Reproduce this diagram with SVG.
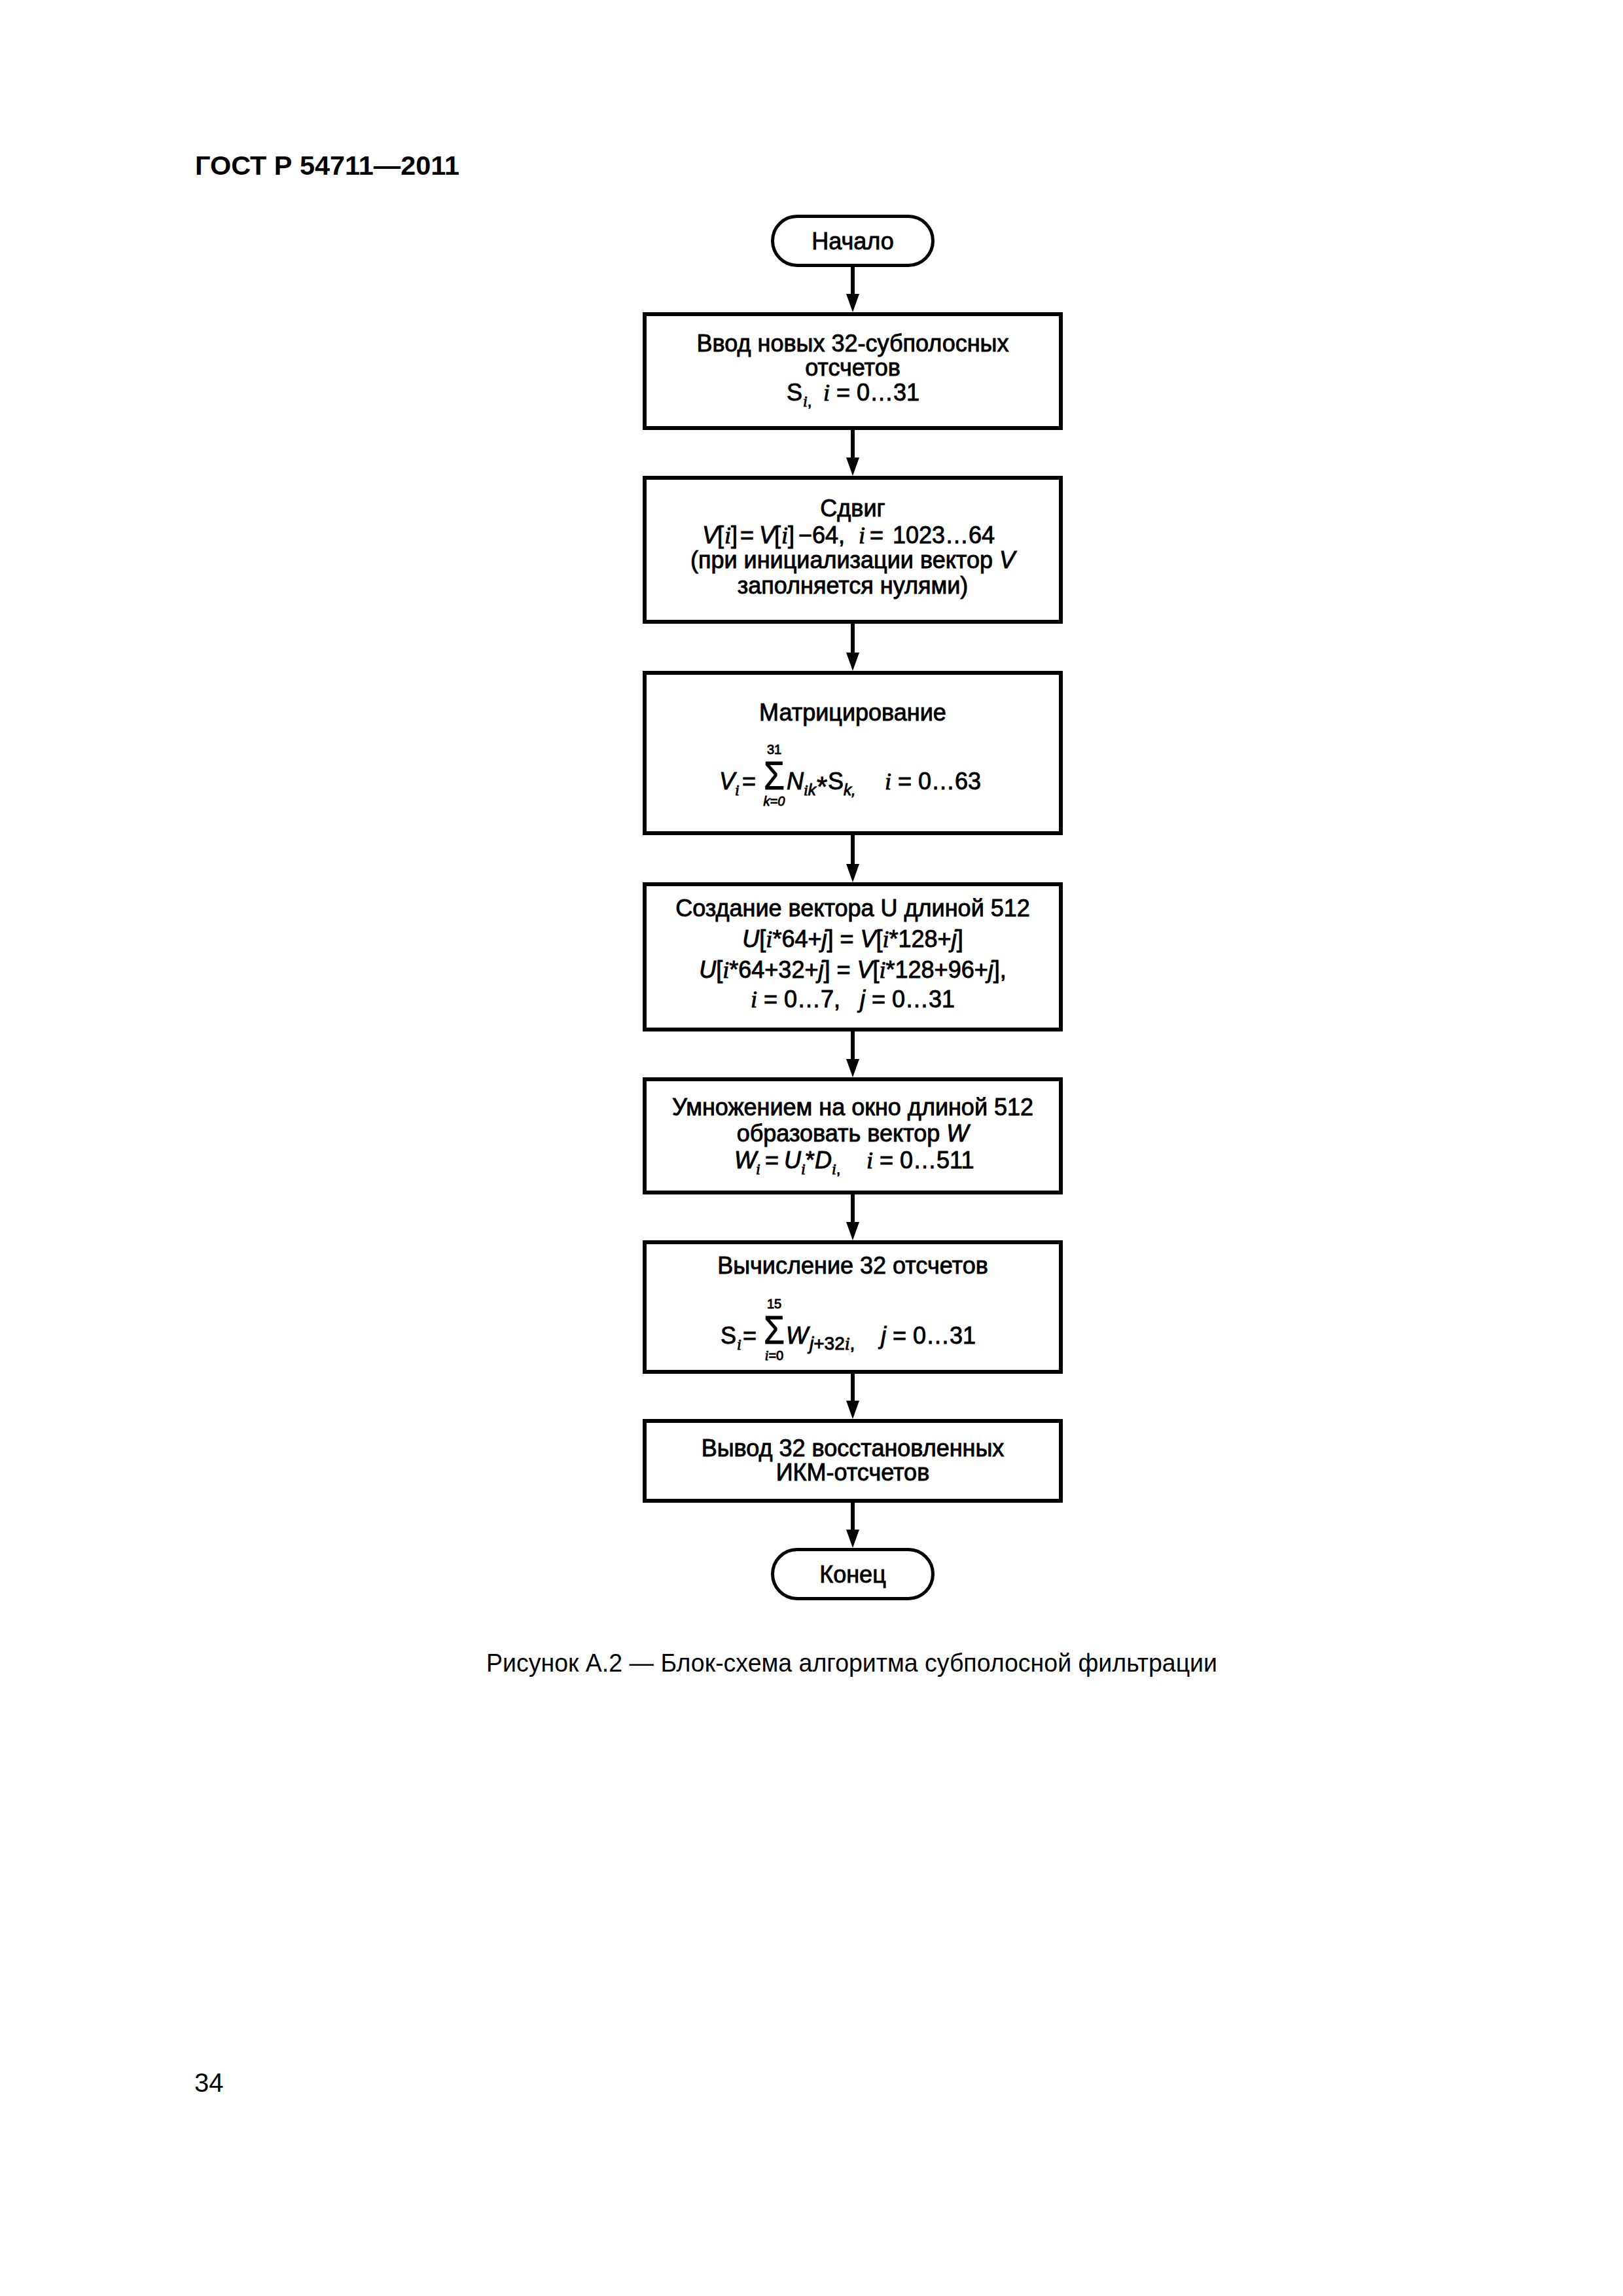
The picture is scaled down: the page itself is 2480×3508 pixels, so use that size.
<svg xmlns="http://www.w3.org/2000/svg" width="2480" height="3508" viewBox="0 0 2480 3508">
<style>
.bg{fill:#fff}
.box{fill:#fff;stroke:#000;stroke-width:6}
.term{fill:#fff;stroke:#000;stroke-width:5}
.ln{stroke:#000;stroke-width:6;fill:none}
.ah{fill:#000}
.t{font-family:"Liberation Sans",Arial,sans-serif;font-size:36px;fill:#000;stroke:#000;stroke-width:0.9}
.c{text-anchor:middle}
.it{font-style:italic}
.si{font-family:"Liberation Serif","Times New Roman",serif;font-style:italic}
.sub{font-size:24px}
.sub2{font-size:28px}
.lim{font-size:20px}
.sig{font-size:62px}
.ast{font-size:42px}
.hdr{font-family:"Liberation Sans",Arial,sans-serif;font-size:40px;font-weight:bold;fill:#000}
.pg{font-family:"Liberation Sans",Arial,sans-serif;font-size:40px;fill:#000}
.cap{font-family:"Liberation Sans",Arial,sans-serif;font-size:38px;fill:#000}
</style>
<rect class="bg" x="0" y="0" width="2480" height="3508"/>
<text class="hdr" x="298" y="267" textLength="404" lengthAdjust="spacingAndGlyphs">ГОСТ Р 54711—2011</text>

<g transform="translate(-2,0)">
<g id="connectors">
<line class="ln" x1="1305" y1="407" x2="1305" y2="451"/><polygon class="ah" points="1295,449 1315,449 1305,477"/>
<line class="ln" x1="1305" y1="657" x2="1305" y2="701"/><polygon class="ah" points="1295,699 1315,699 1305,727"/>
<line class="ln" x1="1305" y1="953" x2="1305" y2="999"/><polygon class="ah" points="1295,997 1315,997 1305,1025"/>
<line class="ln" x1="1305" y1="1276" x2="1305" y2="1322"/><polygon class="ah" points="1295,1320 1315,1320 1305,1348"/>
<line class="ln" x1="1305" y1="1576" x2="1305" y2="1620"/><polygon class="ah" points="1295,1618 1315,1618 1305,1646"/>
<line class="ln" x1="1305" y1="1825" x2="1305" y2="1869"/><polygon class="ah" points="1295,1867 1315,1867 1305,1895"/>
<line class="ln" x1="1305" y1="2099" x2="1305" y2="2142"/><polygon class="ah" points="1295,2140 1315,2140 1305,2168"/>
<line class="ln" x1="1305" y1="2296" x2="1305" y2="2339"/><polygon class="ah" points="1295,2337 1315,2337 1305,2365"/>
</g>

<g id="start">
<rect class="term" x="1182.5" y="330.5" width="245" height="75" rx="37.5" ry="37.5"/>
<text class="t c" x="1305" y="381">Начало</text>
</g>

<g id="input">
<rect class="box" x="987" y="480" width="636" height="174"/>
<text class="t c" x="1305" y="537">Ввод новых 32-субполосных</text>
<text class="t c" x="1305" y="574">отсчетов</text>
<text class="t" y="612"><tspan x="1204">S</tspan><tspan class="si sub" x="1229" dy="9">i</tspan><tspan class="sub">,</tspan><tspan class="si" x="1260" dy="-9">i</tspan><tspan> = 0…31</tspan></text>
</g>

<g id="shift">
<rect class="box" x="987" y="730" width="636" height="220"/>
<text class="t c" x="1305" y="789">Сдвиг</text>
<text class="t" y="830"><tspan class="it" x="1075">V</tspan><tspan x="1098">[</tspan><tspan class="si" x="1109">i</tspan><tspan x="1119">]</tspan><tspan x="1133">=</tspan><tspan class="it" x="1162">V</tspan><tspan x="1185">[</tspan><tspan class="si" x="1196">i</tspan><tspan x="1206">]</tspan><tspan x="1222">−64,</tspan><tspan class="si" x="1314">i</tspan><tspan x="1331">=</tspan><tspan x="1366">1023…64</tspan></text>
<text class="t c" x="1305" y="868">(при инициализации вектор <tspan class="it">V</tspan></text>
<text class="t c" x="1305" y="907">заполняется нулями)</text>
</g>

<g id="matrix">
<rect class="box" x="987" y="1028" width="636" height="245"/>
<text class="t c" x="1305" y="1101">Матрицирование</text>
<text class="t" y="1206"><tspan class="it" x="1101">V</tspan><tspan class="si sub" x="1125" dy="9">i</tspan><tspan x="1136" dy="-9">=</tspan><tspan class="it" x="1204">N</tspan><tspan class="it sub" x="1230" dy="9"><tspan class="si">i</tspan>k</tspan><tspan class="ast" x="1250" dy="1">*</tspan><tspan x="1267" dy="-10">S</tspan><tspan class="it sub" x="1291" dy="9">k,</tspan><tspan class="si" x="1354" dy="-9">i</tspan><tspan> = 0…63</tspan></text>
<text class="t sig" x="1169" y="1206" textLength="32" lengthAdjust="spacingAndGlyphs">Σ</text>
<text class="t c lim" x="1185" y="1152">31</text>
<text class="t c lim it" x="1185" y="1231">k=0</text>
</g>

<g id="vectorU">
<rect class="box" x="987" y="1351" width="636" height="222"/>
<text class="t c" x="1305" y="1400">Создание вектора U длиной 512</text>
<text class="t c" x="1305" y="1447"><tspan class="it">U</tspan>[<tspan class="si">i</tspan>*64+<tspan class="it">j</tspan>] = <tspan class="it">V</tspan>[<tspan class="si">i</tspan>*128+<tspan class="it">j</tspan>]</text>
<text class="t c" x="1305" y="1494"><tspan class="it">U</tspan>[<tspan class="si">i</tspan>*64+32+<tspan class="it">j</tspan>] = <tspan class="it">V</tspan>[<tspan class="si">i</tspan>*128+96+<tspan class="it">j</tspan>],</text>
<text class="t c" x="1305" y="1539"><tspan class="si">i</tspan> = 0…7,&#160;&#160; <tspan class="it">j</tspan> = 0…31</text>
</g>

<g id="window">
<rect class="box" x="987" y="1649" width="636" height="173"/>
<text class="t c" x="1305" y="1704">Умножением на окно длиной 512</text>
<text class="t c" x="1305" y="1744">образовать вектор <tspan class="it">W</tspan></text>
<text class="t" y="1785"><tspan class="it" x="1124">W</tspan><tspan class="si sub" x="1157" dy="9">i</tspan><tspan x="1171" dy="-9">=</tspan><tspan class="it" x="1200">U</tspan><tspan class="si sub" x="1226" dy="9">i</tspan><tspan x="1233" dy="-9">*</tspan><tspan class="it" x="1247">D</tspan><tspan class="si sub" x="1273" dy="9">i</tspan><tspan class="sub">,</tspan><tspan class="si" x="1326" dy="-9">i</tspan><tspan> = 0…511</tspan></text>
</g>

<g id="compute">
<rect class="box" x="987" y="1898" width="636" height="198"/>
<text class="t c" x="1305" y="1946">Вычисление 32 отсчетов</text>
<text class="t" y="2053"><tspan x="1103">S</tspan><tspan class="si sub" x="1128" dy="9">i</tspan><tspan x="1137" dy="-9">=</tspan><tspan class="it" x="1203">W</tspan><tspan class="sub2" x="1239" dy="9"><tspan class="it">j</tspan>+32<tspan class="si">i</tspan>,</tspan><tspan class="it" x="1348" dy="-9">j</tspan><tspan> = 0…31</tspan></text>
<text class="t sig" x="1169" y="2053" textLength="32" lengthAdjust="spacingAndGlyphs">Σ</text>
<text class="t c lim" x="1185" y="1999">15</text>
<text class="t c lim" x="1185" y="2078"><tspan class="si">i</tspan>=0</text>
</g>

<g id="output">
<rect class="box" x="987" y="2171" width="636" height="122"/>
<text class="t c" x="1305" y="2225">Вывод 32 восстановленных</text>
<text class="t c" x="1305" y="2262">ИКМ-отсчетов</text>
</g>

<g id="end">
<rect class="term" x="1182.5" y="2367.5" width="245" height="75" rx="37.5" ry="37.5"/>
<text class="t c" x="1305" y="2418">Конец</text>
</g>
</g>

<text class="cap" x="743" y="2554" textLength="1117" lengthAdjust="spacingAndGlyphs">Рисунок А.2 — Блок-схема алгоритма субполосной фильтрации</text>
<text class="pg" x="297" y="3196">34</text>
</svg>
